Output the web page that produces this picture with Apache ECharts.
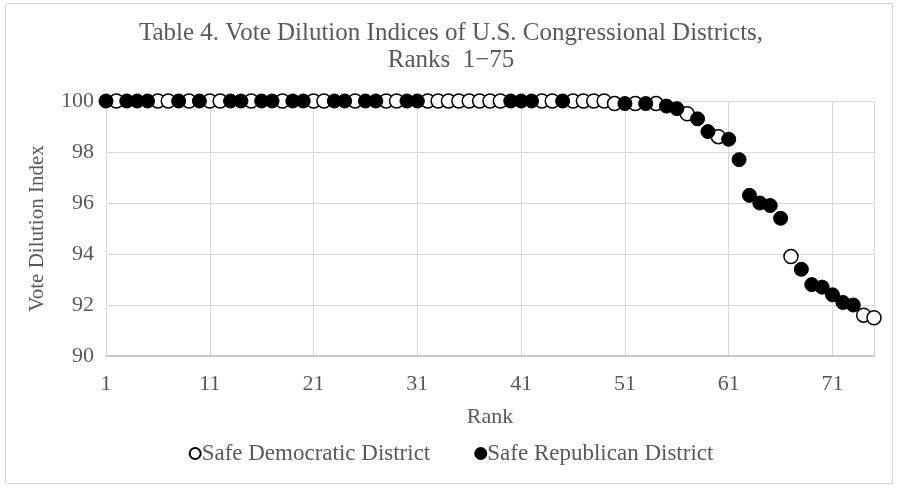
<!DOCTYPE html>
<html>
<head>
<meta charset="utf-8">
<script src="https://cdn.jsdelivr.net/npm/echarts@6/dist/echarts.min.js"></script>
<style>
  html, body { margin: 0; padding: 0; background: #ffffff; }
  #chart { width: 902px; height: 490px; }
</style>
</head>
<body>
<div id="chart"></div>
<script>
// Ranks held by safe Democratic districts and their vote dilution index
const demRanks = [2, 6, 7, 9, 11, 12, 15, 18, 21, 22, 25, 28, 29,
  32, 33, 34, 35, 36, 37, 38, 39, 43, 44, 46, 47, 48, 49,
  50, 52, 54, 57, 60, 67, 74, 75];
const demValues = [100, 100, 100, 100, 100, 100, 100, 100, 100, 100, 100, 100, 100,
  100, 100, 100, 100, 100, 100, 100, 100, 100, 100, 100, 100, 100, 100,
  99.9, 99.9, 99.9, 99.5, 98.6, 93.9, 91.6, 91.5];

// Ranks held by safe Republican districts and their vote dilution index
const repRanks = [1, 3, 4, 5, 8, 10, 13, 14, 16, 17, 19, 20, 23, 24, 26, 27, 30, 31,
  40, 41, 42, 45, 51, 53, 55, 56, 58, 59, 61, 62, 63, 64, 65, 66,
  68, 69, 70, 71, 72, 73];
const repValues = [100, 100, 100, 100, 100, 100, 100, 100, 100, 100, 100, 100, 100, 100, 100, 100, 100, 100,
  100, 100, 100, 100, 99.9, 99.9, 99.8, 99.7, 99.3, 98.8, 98.5, 97.7, 96.3, 96.0, 95.9, 95.4,
  93.4, 92.8, 92.7, 92.4, 92.1, 92.0];

const xTicks = [1, 11, 21, 31, 41, 51, 61, 71];
const yTicks = [90, 92, 94, 96, 98, 100];

const seriesNames = ['Safe Democratic District', 'Safe Republican District'];
const titleText = 'Table 4. Vote Dilution Indices of U.S. Congressional Districts,\nRanks  1\u221275';

const FONT = 'Liberation Serif';
const TEXT = '#595959';

function pairs(xs, ys) {
  return xs.map((x, i) => [x, ys[i]]);
}

const chart = echarts.init(document.getElementById('chart'), null, { renderer: 'canvas' });

chart.setOption({
  animation: false,
  backgroundColor: '#ffffff',
  title: {
    text: titleText,
    left: 'center',
    top: 15,
    textStyle: {
      fontFamily: FONT,
      fontSize: 25,
      fontWeight: 'normal',
      color: TEXT,
      lineHeight: 27
    }
  },
  graphic: [{
    type: 'rect',
    shape: { x: 5.5, y: 3.5, width: 887, height: 480 },
    style: { fill: 'none', stroke: '#d9d9d9', lineWidth: 1 },
    silent: true
  }],
  legend: {
    data: seriesNames,
    bottom: 20,
    left: 'center',
    itemWidth: 11,
    itemHeight: 11,
    itemGap: 44,
    icon: 'circle',
    textStyle: { fontFamily: FONT, fontSize: 23, color: TEXT, padding: [0, 0, 0, -4] }
  },
  grid: {
    left: 106,
    right: 28,
    top: 101,
    bottom: 134
  },
  xAxis: {
    type: 'value',
    min: 1,
    max: 75,
    interval: 10,
    name: 'Rank',
    nameLocation: 'middle',
    nameGap: 50,
    nameTextStyle: { fontFamily: FONT, fontSize: 22, color: TEXT },
    axisLine: { show: true, lineStyle: { color: '#bfbfbf', width: 1.5 } },
    axisTick: { show: false },
    axisLabel: {
      fontFamily: FONT, fontSize: 22, color: TEXT, margin: 17,
      customValues: xTicks,
      formatter: v => String(v)
    },
    splitLine: { show: true, lineStyle: { color: '#d9d9d9', width: 1 } }
  },
  yAxis: {
    type: 'value',
    min: 90,
    max: 100,
    interval: 2,
    name: 'Vote Dilution Index',
    nameLocation: 'middle',
    nameGap: 58,
    nameTextStyle: { fontFamily: FONT, fontSize: 21, color: TEXT },
    axisLine: { show: false },
    axisTick: { show: false },
    axisLabel: {
      fontFamily: FONT, fontSize: 22, color: TEXT, margin: 12,
      formatter: v => yTicks.includes(v) ? String(v) : ''
    },
    splitLine: { show: true, lineStyle: { color: '#d9d9d9', width: 1 } }
  },
  series: [
    {
      name: seriesNames[0],
      type: 'scatter',
      symbol: 'circle',
      symbolSize: 14,
      itemStyle: { color: '#ffffff', borderColor: '#000000', borderWidth: 1.5, opacity: 1 },
      data: pairs(demRanks, demValues)
    },
    {
      name: seriesNames[1],
      type: 'scatter',
      symbol: 'circle',
      symbolSize: 14,
      itemStyle: { color: '#000000', borderColor: '#000000', borderWidth: 1, opacity: 1 },
      data: pairs(repRanks, repValues)
    }
  ]
});
</script>
</body>
</html>
